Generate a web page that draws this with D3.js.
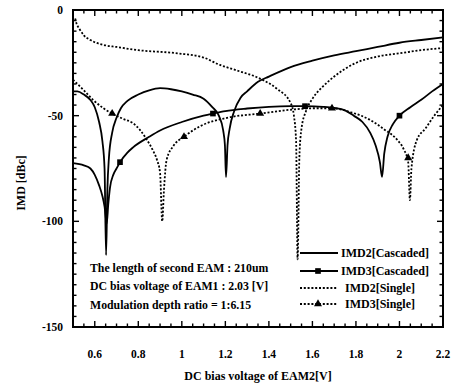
<!DOCTYPE html>
<html>
<head>
<meta charset="utf-8">
<script src="https://cdn.jsdelivr.net/npm/d3@7"></script>
<style>
  body { margin: 0; background: #fff; }
  text { font-family: "Liberation Serif", "DejaVu Serif", serif; font-weight: bold; fill: #000; }
</style>
</head>
<body>
<svg id="chart"></svg>
<script>
// IMD vs DC bias voltage of EAM2
const v_imd2_cas = [0.5, 0.52, 0.55, 0.58, 0.6, 0.62, 0.635, 0.645, 0.652, 0.658, 0.665, 0.68, 0.7, 0.72, 0.75, 0.8, 0.85, 0.9, 0.95, 1.0, 1.05, 1.1, 1.14, 1.17, 1.19, 1.198, 1.203, 1.21, 1.22, 1.24, 1.27, 1.3, 1.35, 1.4, 1.5, 1.6, 1.7, 1.8, 1.9, 2.0, 2.1, 2.2];
const db_imd2_cas = [-38.5, -38.5, -40, -42.6, -46, -53, -62, -75, -116, -85, -70, -58, -51, -46.5, -43, -40, -38, -37, -37.5, -38.5, -40, -42, -46, -50, -57, -64, -79, -64, -56, -48, -41.5, -38.5, -34, -31.5, -27, -24, -21.5, -19.5, -17.5, -15.5, -14.2, -13];

const v_imd3_cas = [0.5, 0.55, 0.58, 0.6, 0.62, 0.635, 0.645, 0.655, 0.662, 0.67, 0.685, 0.7, 0.716, 0.75, 0.776, 0.85, 0.9, 1.0, 1.1, 1.143, 1.2, 1.3, 1.4, 1.5, 1.566, 1.65, 1.7, 1.75, 1.79, 1.83, 1.865, 1.89, 1.91, 1.92, 1.93, 1.945, 1.97, 2.0, 2.05, 2.1, 2.15, 2.2];
const db_imd3_cas = [-72.5, -73.5, -75, -78, -83, -88, -93, -101, -92, -84, -78, -75, -72, -67.5, -65, -60, -57, -53, -50, -49, -47.8, -46.6, -45.8, -45.5, -45.5, -45.8, -46.3, -47.5, -50, -53, -58, -64, -72, -79, -68, -60, -54, -50, -46, -42.5, -38.5, -35];

const v_imd2_sgl = [0.51, 0.515, 0.53, 0.55, 0.58, 0.64, 0.7, 0.8, 0.98, 1.1, 1.175, 1.25, 1.37, 1.44, 1.5, 1.515, 1.525, 1.532, 1.54, 1.55, 1.57, 1.6, 1.65, 1.7, 1.79, 1.9, 2.0, 2.1, 2.2];
const db_imd2_sgl = [-4, -6, -9, -12, -14.2, -16.5, -17.5, -19, -20.5, -22.5, -26, -28.5, -33, -37.5, -44, -50, -62, -118, -70, -56, -48, -42, -36, -31.5, -25.5, -22, -20.5, -19, -18];

const v_imd3_sgl = [0.5, 0.55, 0.593, 0.64, 0.68, 0.73, 0.776, 0.81, 0.84, 0.865, 0.886, 0.9, 0.91, 0.918, 0.93, 0.96, 1.01, 1.084, 1.208, 1.36, 1.5, 1.6, 1.69, 1.78, 1.865, 1.93, 1.99, 2.02, 2.04, 2.048, 2.055, 2.08, 2.12, 2.16, 2.2];
const db_imd3_sgl = [-33, -38, -42.6, -46.5, -49, -51.5, -53.6, -57, -61.5, -66, -71, -77, -100, -85, -71, -64.5, -60, -55, -51, -49, -47.2, -46.5, -46.5, -48.5, -52, -56.5, -61.5, -66, -72, -90, -75, -61.5, -56, -50, -45];

// marker positions
const sq_v = [0.716, 1.143, 1.566, 2.0];
const sq_db = [-72, -49, -45.5, -50];
const tri_v = [0.68, 1.01, 1.36, 1.69, 2.04];
const tri_db = [-49, -60, -49, -46.5, -70];

const xTicks = [0.6, 0.8, 1, 1.2, 1.4, 1.6, 1.8, 2, 2.2];
const yTicks = [0, -50, -100, -150];
const legendNames = ["IMD2[Cascaded]", "IMD3[Cascaded]", "IMD2[Single]", "IMD3[Single]"];
const notes = ["The length of second EAM : 210um", "DC bias voltage of EAM1 : 2.03 [V]", "Modulation depth ratio = 1:6.15"];

const W = 453, H = 388;
const m = { left: 73, right: 10, top: 10, bottom: 61 };

const svg = d3.select('#chart').attr('width', W).attr('height', H);

const x = d3.scaleLinear().domain([0.5, 2.2]).range([m.left, W - m.right]);
const y = d3.scaleLinear().domain([-150, 0]).range([H - m.bottom, m.top]);

// tick labels
svg.append('g').selectAll('text').data(xTicks).enter().append('text')
    .attr('x', d => x(d)).attr('y', y(-150) + 31)
    .attr('text-anchor', 'middle').attr('font-size', 11.5)
    .text(d => d);
svg.append('g').selectAll('text').data(yTicks).enter().append('text')
    .attr('x', m.left - 10).attr('y', d => y(d) + 4)
    .attr('text-anchor', 'end').attr('font-size', 11.5)
    .text(d => d === 0 ? '0' : '-' + Math.abs(d));

// axis titles
svg.append('text')
    .attr('x', 258).attr('y', 380)
    .attr('text-anchor', 'middle').attr('font-size', 12)
    .text('DC bias voltage of EAM2[V]');
svg.append('text')
    .attr('transform', 'translate(25,183) rotate(-90)')
    .attr('text-anchor', 'middle').attr('font-size', 12)
    .text('IMD [dBc]');

// curves
let line = d3.line().x(d => x(d[0])).y(d => y(d[1])).curve(d3.curveMonotoneX);
let zip = (a, b) => a.map((v, i) => [v, b[i]]);

let plot = svg.append('g').attr('fill', 'none').attr('stroke', '#000').attr('stroke-width', 1.8);
plot.append('path').attr('d', line(zip(v_imd2_cas, db_imd2_cas)));
plot.append('path').attr('d', line(zip(v_imd3_cas, db_imd3_cas)));
plot.append('path').attr('d', line(zip(v_imd2_sgl, db_imd2_sgl))).attr('stroke-dasharray', '2,1.8');
plot.append('path').attr('d', line(zip(v_imd3_sgl, db_imd3_sgl))).attr('stroke-dasharray', '2,1.8');

let square = d3.symbol().type(d3.symbolSquare).size(32);
let triangle = d3.symbol().type(d3.symbolTriangle).size(28);
svg.append('g').selectAll('path').data(zip(sq_v, sq_db)).enter().append('path')
    .attr('d', square).attr('transform', d => `translate(${x(d[0])},${y(d[1])})`);
svg.append('g').selectAll('path').data(zip(tri_v, tri_db)).enter().append('path')
    .attr('d', triangle).attr('transform', d => `translate(${x(d[0])},${y(d[1])})`);

// legend
let legendY = [253, 271, 288, 304];
legendNames.forEach((name, i) => {
    let g = svg.append('g');
    g.append('line').attr('x1', 300).attr('x2', 338).attr('y1', legendY[i]).attr('y2', legendY[i])
        .attr('stroke', '#000').attr('stroke-width', 1.8)
        .attr('stroke-dasharray', i >= 2 ? '2,1.8' : null);
    if (i === 1) g.append('path').attr('d', square).attr('transform', `translate(318,${legendY[i]})`);
    if (i === 3) g.append('path').attr('d', triangle).attr('transform', `translate(318,${legendY[i]})`);
    g.append('text').attr('x', i >= 2 ? 345 : 341).attr('y', legendY[i] + 4)
        .attr('font-size', 12).text(name);
});

// notes
let noteY = [272, 290, 309];
notes.forEach((t, i) => {
    svg.append('text').attr('x', 90).attr('y', noteY[i]).attr('font-size', 11.8).text(t);
});

// frame and ticks, every 0.05 V / 5 dB, inward on all four sides
let minorX = d3.range(0.5, 2.2001, 0.05);
let minorY = d3.range(-150, 0.001, 5);
let isMajorX = v => Math.abs(v * 5 - Math.round(v * 5)) < 1e-6;
let isMajorY = v => Math.abs(v % 50) < 1e-6;

svg.append('rect').attr('x', x(0.5)).attr('y', y(0))
    .attr('width', x(2.2) - x(0.5)).attr('height', y(-150) - y(0))
    .attr('fill', 'none').attr('stroke', '#000').attr('stroke-width', 2);

let tickG = svg.append('g').attr('stroke', '#000').attr('stroke-width', 1.4);
minorX.forEach(v => {
    let len = isMajorX(v) ? 6 : 3.5;
    tickG.append('line').attr('x1', x(v)).attr('x2', x(v)).attr('y1', y(-150)).attr('y2', y(-150) - len);
    tickG.append('line').attr('x1', x(v)).attr('x2', x(v)).attr('y1', y(0)).attr('y2', y(0) + len);
});
minorY.forEach(v => {
    let len = isMajorY(v) ? 6 : 3.5;
    tickG.append('line').attr('y1', y(v)).attr('y2', y(v)).attr('x1', x(0.5)).attr('x2', x(0.5) + len);
    tickG.append('line').attr('y1', y(v)).attr('y2', y(v)).attr('x1', x(2.2)).attr('x2', x(2.2) - len);
});
</script>
</body>
</html>
